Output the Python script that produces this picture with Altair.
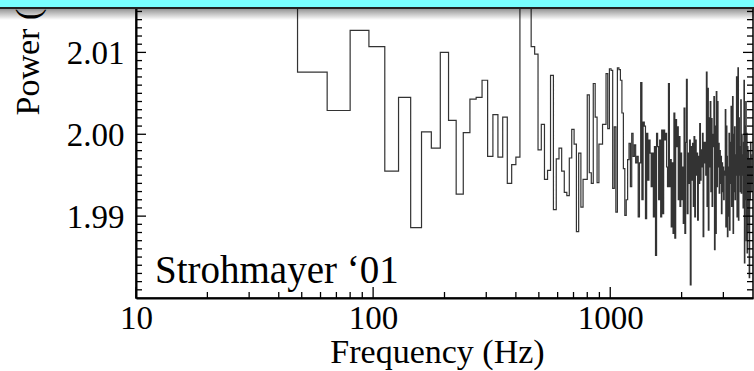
import altair as alt
import pandas as pd

# Power values of 16 Hz bins (bin left edges 16, 32, 48, ... Hz)
power_lo = [2.035, 2.028, 2.0076, 2.0029, 2.0127, 2.0107, 1.9955, 2.0045, 1.9886, 2.0003,
            1.9983, 2.0100, 2.0017, 1.9927, 2.0002, 2.0043, 2.0045, 2.0066, 1.9973, 2.0024,
            1.9972, 2.0021, 1.9940, 1.9963, 1.9972, 2.024, 2.030, 2.022, 2.0107, 2.0098,
            1.9981, 2.0012, 1.9945, 1.9956, 2.0072, 1.9908, 1.9970, 1.9983, 1.9955, 1.9929,
            1.9925, 1.9971, 2.0006, 1.9988, 1.9881, 1.9977, 1.9911, 1.9945, 1.9945, 2.0048,
            1.9953, 1.9940, 2.0062, 2.0021, 1.9941, 1.9988, 1.9988, 2.0012, 2.0012, 2.0074,
            2.0007, 2.0080, 2.0078, 1.9934, 2.0009, 1.9905, 2.0081, 2.0079, 2.0066, 2.0026,
            1.9958, 1.9901, 1.9920, 1.9969, 1.9989, 1.9936, 2.0001, 1.9973, 1.9987, 1.9965,
            1.9973, 1.9899, 1.9965, 2.0063, 1.9920, 2.0015, 2.0010, 1.9897, 2.0001, 1.9944,
            1.9993]
power_mid = [1.9977, 1.9936, 1.9977, 1.9899, 1.9985, 1.9852, 2.0001, 1.9985, 1.9920, 1.9993,
             1.9899, 2.0005, 1.9903, 2.0005, 1.9993, 2.0001, 1.9960, 1.9936, 2.0062, 1.9936,
             1.9969, 1.9887, 1.9965, 1.9879, 2.0026, 1.9873, 2.0018, 1.9985, 2.0009, 1.9920,
             1.9997, 1.9912, 1.9977, 1.9920, 1.9960, 1.9891, 2.0032, 1.9879, 1.9990, 2.0067,
             1.9903, 1.9977, 1.9940, 1.9993, 1.9816, 1.9985, 1.9944, 1.9989, 1.9912, 1.9997,
             1.9899, 1.9993, 1.9950, 1.9977, 1.9895, 1.9973, 1.9940, 2.0013, 1.9944, 1.9981,
             1.9960, 2.0001, 1.9875, 1.9990]
power_hi = [1.9965, 1.9990, 1.9950, 2.0076, 1.9912, 2.0056, 1.9883, 2.0020, 1.9960, 2.0040,
            1.9930, 2.0019, 1.9912, 1.9985, 2.0000, 2.0046, 1.9859, 2.0010, 1.9879, 2.0052,
            1.9936, 2.0040, 1.9960, 1.9989, 1.9928, 1.9980, 1.9940, 1.9973, 1.9903, 1.9965,
            1.9930, 1.9960, 1.9920, 1.9955, 1.9950, 2.0030, 1.9887, 2.0010, 1.9973, 1.9875,
            1.9960, 1.9900, 2.0001, 1.9883, 1.9990, 1.9940, 2.0034, 1.9912, 1.9975, 2.0046,
            1.9879, 2.0000, 1.9930, 2.0009, 1.9920, 1.9975, 1.9950, 2.0070, 1.9899, 1.9990,
            2.0081, 1.9895, 2.0020, 1.9950, 1.9985, 1.9930, 2.0042, 1.9928, 2.0000, 1.9950,
            1.9975, 1.9910, 1.9990, 2.0066, 1.9843, 2.0010, 1.9920, 2.0040, 1.9870, 2.0001,
            1.9855, 1.9985, 1.9900, 1.9980, 1.9880, 1.9825, 1.9970, 1.9920, 1.9990, 1.9930,
            1.9960, 1.9940, 1.9975, 1.9950]

bin_width = 16
x_end = 4000
x_tick_labels = [10, 100, 1000]
x_minor = [20, 30, 40, 50, 60, 70, 80, 90, 200, 300, 400, 500, 600, 700, 800, 900, 2000, 3000]
y_tick_labels = [1.99, 2.00, 2.01]
y_minor = [1.981, 1.982, 1.983, 1.984, 1.985, 1.986, 1.987, 1.988, 1.989,
           1.991, 1.992, 1.993, 1.994, 1.995, 1.996, 1.997, 1.998, 1.999,
           2.001, 2.002, 2.003, 2.004, 2.005, 2.006, 2.007, 2.008, 2.009,
           2.011, 2.012, 2.013, 2.014, 2.015, 2.016]

values = power_lo + power_mid + power_hi
freqs = [bin_width * (i + 1) for i in range(len(values))]
df = pd.DataFrame({"f": freqs + [x_end], "p": values + [values[-1]]})

W, H = 617, 298
FONT = "'Liberation Serif', 'Times New Roman', Times, 'DejaVu Serif', serif"
xs = alt.Scale(type="log", domain=[10, x_end], nice=False)
ys = alt.Scale(domain=[1.98, 2.0164], nice=False, zero=False)

x_axis = alt.Axis(
    values=x_tick_labels, format="d", ticks=False, grid=False,
    domainColor="black", domainWidth=2, labelFlush=False,
    labelFont=FONT, labelFontSize=33, labelColor="black", labelPadding=4,
    title="Frequency (Hz)", titleFont=FONT, titleFontSize=34,
    titleFontWeight="normal", titleColor="black", titleX=301, titleY=64,
    titleAlign="center", titleBaseline="alphabetic")
y_axis = alt.Axis(
    values=y_tick_labels, format=".2f", ticks=False, grid=False,
    domainColor="black", domainWidth=2,
    labelFont=FONT, labelFontSize=33, labelColor="black", labelPadding=12,
    labelOffset=1,
    title="Power (Leahy)", titleFont=FONT, titleFontSize=34,
    titleFontWeight="normal", titleColor="black", titleAngle=270,
    titleX=-98, titleY=115, titleAlign="left", titleBaseline="alphabetic")

line = alt.Chart(df).mark_line(
    interpolate="step-after", color="#333333", strokeWidth=1.2, clip=True
).encode(
    x=alt.X("f:Q", scale=xs, axis=x_axis),
    y=alt.Y("p:Q", scale=ys, axis=y_axis),
)

ymaj = pd.DataFrame({"v": y_tick_labels})
ymin = pd.DataFrame({"v": y_minor})
xmaj = pd.DataFrame({"v": x_tick_labels})
xmin = pd.DataFrame({"v": x_minor})


def yrule(d, x0, x1):
    return alt.Chart(d).mark_rule(color="black", strokeWidth=1.3).encode(
        y=alt.Y("v:Q", scale=ys, axis=y_axis), x=alt.value(x0), x2=alt.value(x1))


def xrule(d, length):
    return alt.Chart(d).mark_rule(color="black", strokeWidth=1.3).encode(
        x=alt.X("v:Q", scale=xs, axis=x_axis), y=alt.value(H), y2=alt.value(H - length))


ticks = [
    yrule(ymaj, 0, 10), yrule(ymin, 0, 6),
    yrule(ymaj, W, W - 10), yrule(ymin, W, W - 6),
    xrule(xmaj, 11), xrule(xmin, 6),
]

one = pd.DataFrame({"a": [0]})
label = alt.Chart(one).mark_text(
    text="Strohmayer \u201801", font=FONT, fontSize=39, color="black",
    align="left", baseline="alphabetic"
).encode(x=alt.value(19), y=alt.value(283))

shadow = alt.Chart(one).mark_rect(
    color=alt.Gradient(
        gradient="linear",
        stops=[alt.GradientStop(color="rgba(0,0,0,0.45)", offset=0),
               alt.GradientStop(color="rgba(0,0,0,0)", offset=1)],
        x1=0, x2=0, y1=0, y2=1)
).encode(x=alt.value(-136), x2=alt.value(W + 1), y=alt.value(8), y2=alt.value(20))

bar = alt.Chart(one).mark_rect(color="#78FFFF").encode(
    x=alt.value(-136), x2=alt.value(W + 1), y=alt.value(0), y2=alt.value(7))
bar_edge = alt.Chart(one).mark_rule(color="#222222", strokeWidth=2).encode(
    x=alt.value(-136), x2=alt.value(W + 1), y=alt.value(8))

chart = alt.layer(line, *ticks, label, shadow, bar, bar_edge).properties(
    width=W, height=H,
    autosize=alt.AutoSizeParams(type="none"),
    padding={"left": 136, "right": 1, "top": 0, "bottom": 73},
    background="white",
).configure_view(stroke="black", strokeWidth=1.5)

chart.save("out.html", embed_options={"renderer": "svg", "actions": False})
